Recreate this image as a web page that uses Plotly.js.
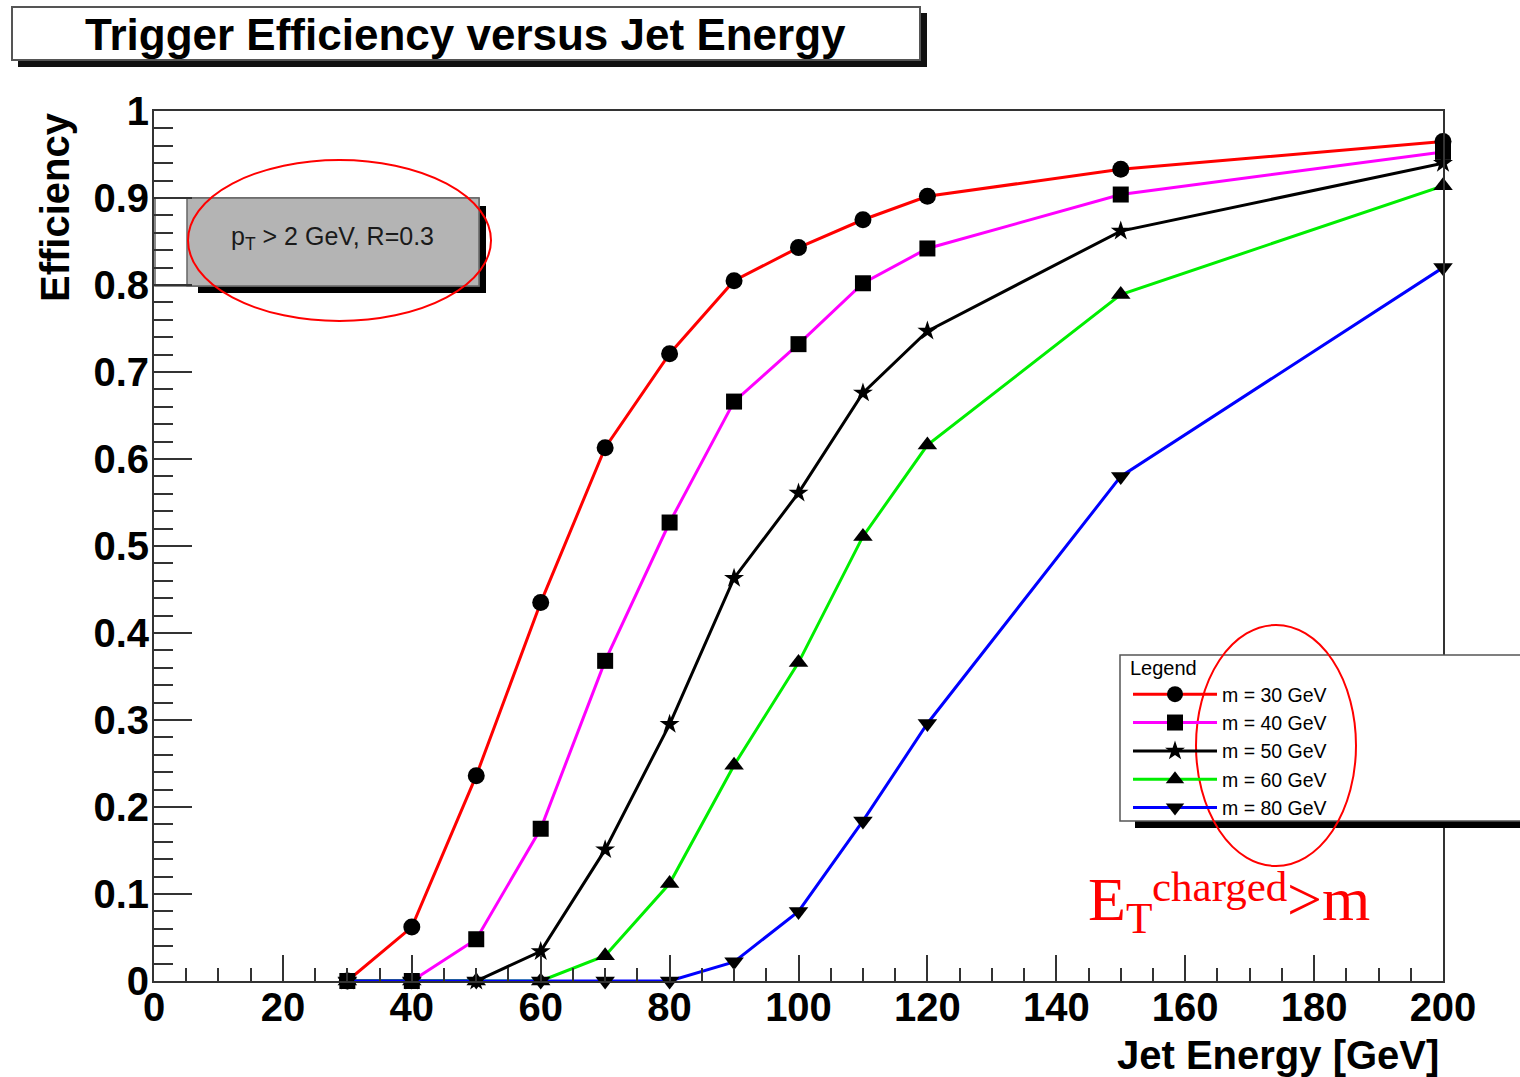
<!DOCTYPE html>
<html>
<head>
<meta charset="utf-8">
<script src="https://cdn.plot.ly/plotly-3.0.1.min.js"></script>
<style>html,body{margin:0;padding:0;background:#fff;}#chart{width:1520px;height:1077px;}</style>
</head>
<body>
<div id="chart"></div>
<script>
// ---- data ----
const jetEnergy = [30, 40, 50, 60, 70, 80, 90, 100, 110, 120, 150, 200];
const eff_m30 = [0, 0.062, 0.236, 0.435, 0.613, 0.721, 0.805, 0.843, 0.875, 0.902, 0.933, 0.965];
const eff_m40 = [0, 0, 0.048, 0.175, 0.368, 0.527, 0.666, 0.732, 0.802, 0.842, 0.904, 0.953];
const eff_m50 = [0, 0, 0, 0.034, 0.151, 0.295, 0.463, 0.561, 0.676, 0.747, 0.862, 0.940];
const eff_m60 = [0, 0, 0, 0, 0.029, 0.112, 0.248, 0.366, 0.511, 0.616, 0.789, 0.914];
const eff_m80 = [0, 0, 0, 0, 0, 0, 0.022, 0.080, 0.184, 0.296, 0.580, 0.820];
const seriesNames = ["m = 30 GeV", "m = 40 GeV", "m = 50 GeV", "m = 60 GeV", "m = 80 GeV"];
const chartTitle = "Trigger Efficiency versus Jet Energy";
const xTitle = "Jet Energy [GeV]";
const yTitle = "Efficiency";
const legendTitle = "Legend";
const boxText = "p<sub>T</sub> &gt; 2 GeV, R=0.3";
const noteBase = "E<sub>T</sub>";
const noteSup = "charged";
const noteTail = "&gt;m";

// ---- styles ----
const seriesY = [eff_m30, eff_m40, eff_m50, eff_m60, eff_m80];
const colors = ["#ff0000", "#ff00ff", "#000000", "#00ee00", "#0000ff"];
const symbols = ["circle", "square", "star", "triangle-up", "triangle-down"];
const msizes = [17, 16, 15, 17, 17];

const traces = seriesY.map((ys, i) => ({
  type: "scatter", mode: "lines+markers", name: seriesNames[i],
  x: jetEnergy, y: ys, cliponaxis: false,
  line: {color: colors[i], width: 3},
  marker: {symbol: symbols[i], size: msizes[i], color: "#000"}
}));

// plot area in pixels
const PL = 154, PR = 1443, PT = 111, PB = 981;
const px = x => (x - PL) / (PR - PL);
const py = y => (PB - y) / (PB - PT);
const rect = (x0, y0, x1, y1, fill, lc, lw, layer) => ({
  type: "rect", xref: "paper", yref: "paper",
  x0: px(x0), x1: px(x1), y0: py(y1), y1: py(y0),
  fillcolor: fill, line: {color: lc, width: lw}, layer: layer || "above"
});
const ell = (x0, y0, x1, y1) => ({
  type: "circle", xref: "paper", yref: "paper",
  x0: px(x0), x1: px(x1), y0: py(y1), y1: py(y0),
  line: {color: "#ff0000", width: 2}, fillcolor: "rgba(0,0,0,0)", layer: "above"
});

const FONT = "Liberation Sans, Arial, sans-serif";
const SERIF = "Liberation Serif, Times New Roman, serif";
const axisCommon = {
  showline: true, mirror: true, linecolor: "#333", linewidth: 2,
  ticks: "inside", tickcolor: "#333", tickwidth: 2,
  showgrid: false, zeroline: false,
  tickfont: {family: FONT, size: 40, weight: "bold", color: "#000"}
};
const note = (text, x, y, size) => ({
  text: text, xref: "paper", yref: "paper", x: px(x), y: py(y),
  xanchor: "left", yanchor: "middle", showarrow: false,
  font: {family: SERIF, size: size, color: "#ff0000"}
});

const layout = {
  width: 1520, height: 1077,
  margin: {l: PL, r: 1520 - PR, t: PT, b: 1077 - PB},
  paper_bgcolor: "#fff", plot_bgcolor: "#fff",
  showlegend: true,
  xaxis: Object.assign({}, axisCommon, {
    range: [0, 200], dtick: 20, tick0: 0, ticklen: 26,
    minor: {dtick: 5, ticklen: 13, ticks: "inside", tickcolor: "#333", tickwidth: 2},
    ticklabelstandoff: -10
  }),
  yaxis: Object.assign({}, axisCommon, {
    range: [0, 1], dtick: 0.1, tick0: 0, ticklen: 38,
    minor: {dtick: 0.02, ticklen: 19, ticks: "inside", tickcolor: "#333", tickwidth: 2},
    ticklabelstandoff: -5
  }),
  legend: {
    x: px(1128), y: py(649), xanchor: "left", yanchor: "top",
    xref: "paper", yref: "paper",
    bgcolor: "rgba(0,0,0,0)", borderwidth: 0,
    itemwidth: 84,
    font: {family: FONT, size: 19.5, color: "#000"},
    title: {text: legendTitle, font: {family: FONT, size: 20, color: "#000"}},
    tracegroupgap: 0
  },
  shapes: [
    // title box with shadow
    rect(18, 13, 927, 67, "#111", "#111", 0),
    rect(12, 7, 920, 60, "#fff", "#555", 2),
    // text box with shadow
    rect(198, 206, 486, 293, "#000", "#000", 0, "below"),
    rect(155, 198, 479, 286, "#fff", "#666", 1.5, "below"),
    rect(187, 198, 479, 286, "#b4b4b4", "#666", 1.5, "below"),
    // legend box with shadow
    rect(1135, 670, 1530, 828, "#000", "#000", 0),
    rect(1120, 655, 1530, 821, "#fff", "#555", 1.5),
    // red ellipses
    ell(188, 160, 491, 321),
    ell(1196, 625, 1356, 866)
  ],
  annotations: [
    {text: chartTitle, xref: "paper", yref: "paper", x: px(465), y: py(35),
     xanchor: "center", yanchor: "middle", showarrow: false,
     font: {family: FONT, size: 44, weight: "bold", color: "#000"}},
    {text: yTitle, xref: "paper", yref: "paper", x: px(55), y: py(207),
     xanchor: "center", yanchor: "middle", showarrow: false, textangle: -90,
     font: {family: FONT, size: 40, weight: "bold", color: "#000"}},
    {text: xTitle, xref: "paper", yref: "paper", x: px(1441), y: py(1055),
     xanchor: "right", yanchor: "middle", showarrow: false,
     font: {family: FONT, size: 40, weight: "bold", color: "#000"}},
    {text: boxText, xref: "paper", yref: "paper", x: px(332), y: py(238),
     xanchor: "center", yanchor: "middle", showarrow: false,
     font: {family: FONT, size: 25, color: "#1a1a1a"}},
    note(noteBase, 1086, 903, 62),
    note(noteSup, 1150, 886, 43),
    note(noteTail, 1285, 899, 62)
  ]
};

Plotly.newPlot("chart", traces, layout, {displayModeBar: false, staticPlot: true});
</script>
</body>
</html>
